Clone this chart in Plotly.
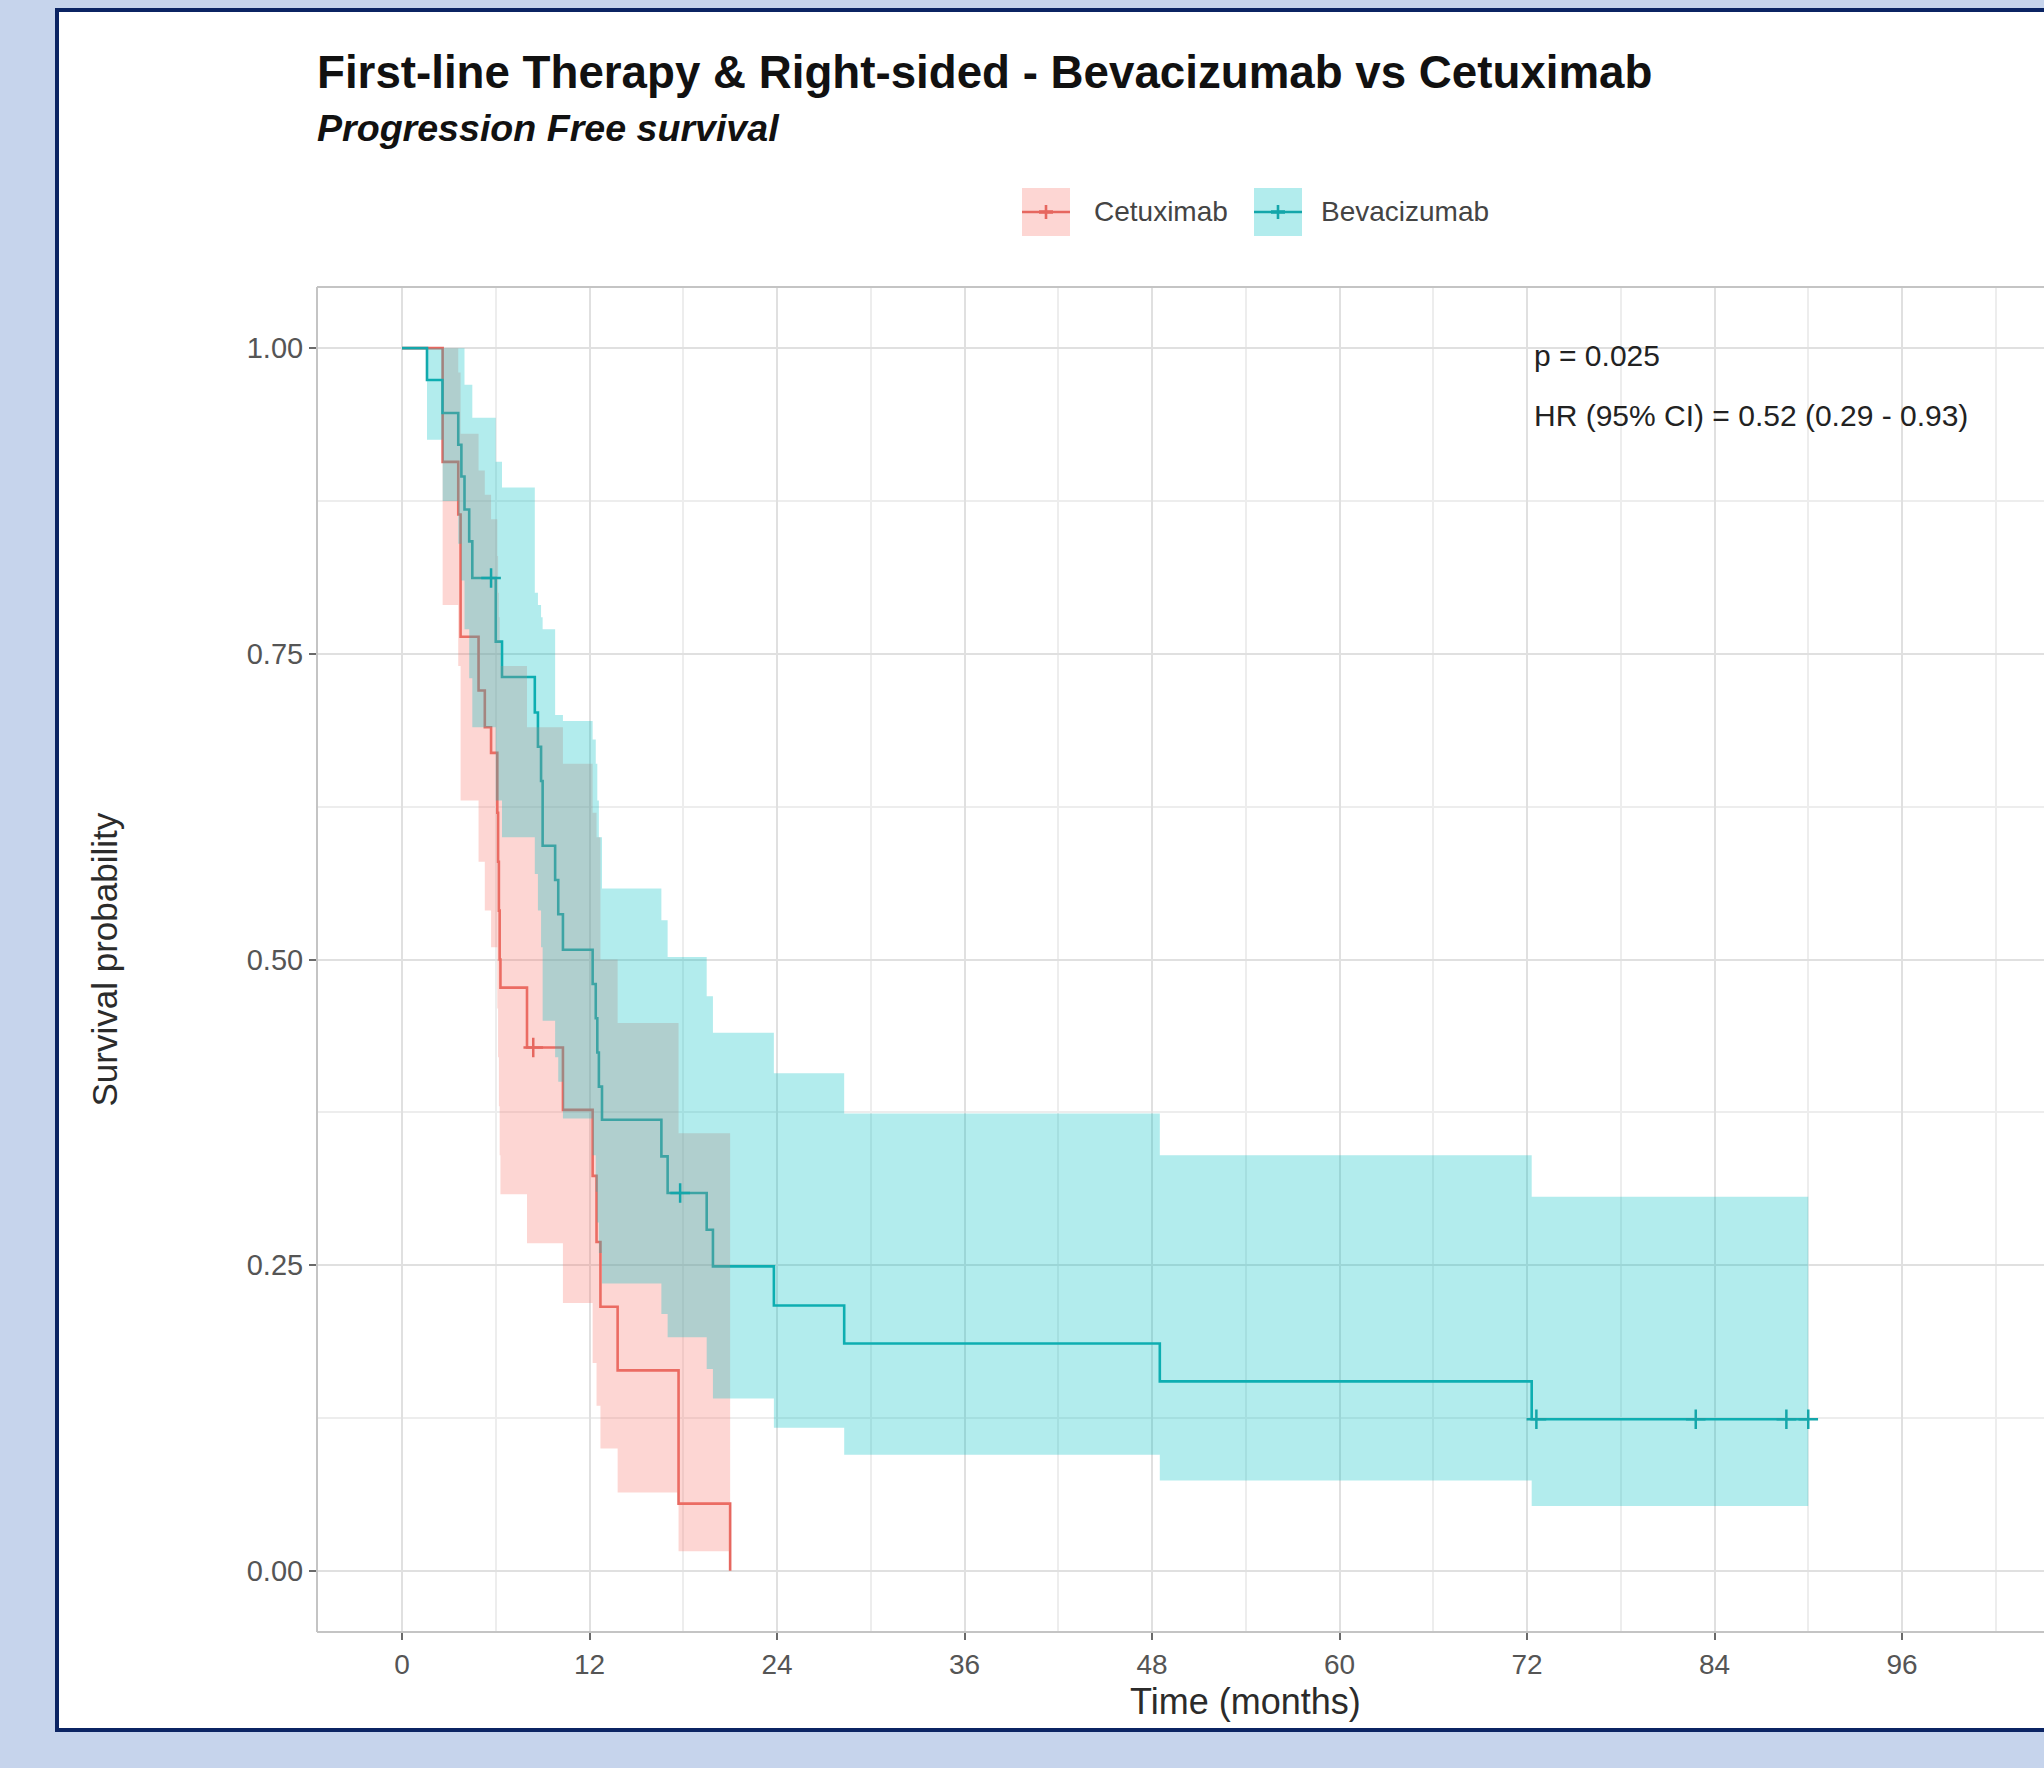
import plotly.graph_objects as go

# ---------------- data ----------------
bev_time = [0, 1.6, 2.6, 3.6, 3.8, 4.0, 4.3, 4.5, 6.0, 6.4, 8.5, 8.7, 8.9, 9.0, 9.8, 10.0,
            10.3, 12.2, 12.4, 12.5, 12.6, 12.8, 16.6, 17.0, 19.5, 19.9, 23.8, 28.3, 48.5, 72.3, 90.0]
bev_surv = [1.0, 0.974, 0.947, 0.921, 0.895, 0.868, 0.842, 0.812, 0.760, 0.731, 0.702, 0.674,
            0.646, 0.593, 0.565, 0.537, 0.508, 0.480, 0.452, 0.424, 0.396, 0.369, 0.339, 0.309,
            0.279, 0.249, 0.217, 0.186, 0.155, 0.124, 0.124]
bev_upper = [1.0, 1.0, 1.0, 1.0, 1.0, 0.97, 0.97, 0.943, 0.907, 0.886, 0.80, 0.79, 0.78, 0.77,
             0.70, 0.70, 0.695, 0.68, 0.66, 0.63, 0.60, 0.558, 0.532, 0.502, 0.47, 0.44, 0.407,
             0.374, 0.34, 0.306, 0.306]
bev_lower = [1.0, 0.925, 0.875, 0.84, 0.81, 0.77, 0.73, 0.69, 0.63, 0.60, 0.57, 0.54, 0.51,
             0.45, 0.42, 0.40, 0.37, 0.34, 0.31, 0.285, 0.26, 0.235, 0.21, 0.191, 0.165, 0.141,
             0.117, 0.095, 0.074, 0.053, 0.053]
bev_censor = [5.7, 17.8, 72.6, 82.8, 88.6, 90.0]

cet_time = [0, 2.6, 3.6, 3.75, 4.9, 5.3, 5.7, 6.1, 6.15, 6.2, 6.25, 6.3, 8.0, 10.3, 12.2,
            12.45, 12.7, 13.8, 17.7, 21.0]
cet_surv = [1.0, 0.907, 0.864, 0.764, 0.72, 0.69, 0.669, 0.62, 0.58, 0.54, 0.50, 0.477, 0.428,
            0.377, 0.323, 0.269, 0.216, 0.164, 0.055, 0.0]
cet_upper = [1.0, 1.0, 0.98, 0.93, 0.90, 0.88, 0.86, 0.83, 0.80, 0.78, 0.76, 0.74, 0.69, 0.66,
             0.62, 0.60, 0.50, 0.448, 0.358, None]
cet_lower = [1.0, 0.79, 0.74, 0.63, 0.58, 0.54, 0.51, 0.46, 0.42, 0.38, 0.34, 0.308, 0.268,
             0.219, 0.17, 0.135, 0.10, 0.064, 0.016, None]
cet_censor = [8.4]

x_ticks = [0, 12, 24, 36, 48, 60, 72, 84, 96]
y_ticks = [0.0, 0.25, 0.50, 0.75, 1.0]
y_ticklabels = ["0.00", "0.25", "0.50", "0.75", "1.00"]

groups = ["Cetuximab", "Bevacizumab"]
title = "First-line Therapy & Right-sided - Bevacizumab vs Cetuximab"
subtitle = "Progression Free survival"
pval_text = "p = 0.025"
hr_text = "HR (95% CI) = 0.52 (0.29 - 0.93)"

# ---------------- styling ----------------
RED_LINE = "#E6675F"
TEAL_LINE = "#14A6AA"
RED_FILL = "rgba(248,118,109,0.3)"
TEAL_FILL = "rgba(0,191,196,0.3)"
FONT = "Liberation Sans, Arial, sans-serif"
BG = "#C6D4EC"

W, H = 2044, 1768
L, T, B = 317, 287, 136
PW, PH = W - L, H - T - B


def px_x(px):
    return (px - L) / PW


def px_y(py):
    return (H - B - py) / PH


def ribbon(times, upper, lower):
    n = len(times) - 1
    xs, ys, lx, ly = [], [], [], []
    for i in range(n):
        xs += [times[i], times[i + 1]]
        ys += [upper[i], upper[i]]
        lx += [times[i], times[i + 1]]
        ly += [lower[i], lower[i]]
    return xs + lx[::-1], ys + ly[::-1]


def step_value(times, surv, t):
    v = surv[0]
    for ti, si in zip(times, surv):
        if ti <= t:
            v = si
    return v


fig = go.Figure()

# survival step lines (drawn first, ribbons overlay them as in ggsurvplot)
fig.add_trace(go.Scatter(x=cet_time, y=cet_surv, mode="lines", line=dict(color=RED_LINE, width=2.6, shape="hv"),
                         showlegend=False, hoverinfo="skip"))
fig.add_trace(go.Scatter(x=bev_time, y=bev_surv, mode="lines", line=dict(color=TEAL_LINE, width=2.6, shape="hv"),
                         showlegend=False, hoverinfo="skip"))

# confidence ribbons
rx, ry = ribbon(cet_time, cet_upper, cet_lower)
fig.add_trace(go.Scatter(x=rx, y=ry, mode="lines", fill="toself", fillcolor=RED_FILL,
                         line=dict(width=0, color="rgba(0,0,0,0)"), showlegend=False, hoverinfo="skip"))
bx, by = ribbon(bev_time, bev_upper, bev_lower)
fig.add_trace(go.Scatter(x=bx, y=by, mode="lines", fill="toself", fillcolor=TEAL_FILL,
                         line=dict(width=0, color="rgba(0,0,0,0)"), showlegend=False, hoverinfo="skip"))

# censor marks
fig.add_trace(go.Scatter(x=cet_censor, y=[step_value(cet_time, cet_surv, t) for t in cet_censor],
                         mode="markers", marker=dict(symbol="cross-thin", size=14, line=dict(width=2.5, color=RED_LINE)),
                         showlegend=False, hoverinfo="skip"))
fig.add_trace(go.Scatter(x=bev_censor, y=[step_value(bev_time, bev_surv, t) for t in bev_censor],
                         mode="markers", marker=dict(symbol="cross-thin", size=14, line=dict(width=2.5, color=TEAL_LINE)),
                         showlegend=False, hoverinfo="skip"))

shapes = []
# white card with navy frame
shapes.append(dict(type="rect", xref="paper", yref="paper", x0=px_x(57), x1=px_x(2080), y0=px_y(1730), y1=px_y(10),
                   fillcolor="white", line=dict(color="#0B2463", width=4), layer="below"))
# panel border (left, top, bottom)
border = "#C4C4C4"
shapes.append(dict(type="line", xref="paper", yref="paper", x0=0, x1=0, y0=0, y1=1, line=dict(color=border, width=2), layer="above"))
shapes.append(dict(type="line", xref="paper", yref="paper", x0=0, x1=1.01, y0=1, y1=1, line=dict(color=border, width=2), layer="above"))
shapes.append(dict(type="line", xref="paper", yref="paper", x0=0, x1=1.01, y0=0, y1=0, line=dict(color=border, width=2), layer="above"))

# manual ggplot-style legend keys
annotations = []
key_specs = [(groups[0], 1022, RED_FILL, RED_LINE, 1092), (groups[1], 1254, TEAL_FILL, TEAL_LINE, 1319)]
for name, kx, fillc, linec, tx in key_specs:
    shapes.append(dict(type="rect", xref="paper", yref="paper", x0=px_x(kx), x1=px_x(kx + 48),
                       y0=px_y(236), y1=px_y(188), fillcolor=fillc, line=dict(width=0)))
    shapes.append(dict(type="line", xref="paper", yref="paper", x0=px_x(kx), x1=px_x(kx + 48),
                       y0=px_y(212), y1=px_y(212), line=dict(color=linec, width=2.6)))
    shapes.append(dict(type="line", xref="paper", yref="paper", x0=px_x(kx + 24), x1=px_x(kx + 24),
                       y0=px_y(219), y1=px_y(205), line=dict(color=linec, width=2.6)))
    shapes.append(dict(type="line", xref="paper", yref="paper", x0=px_x(kx + 17), x1=px_x(kx + 31),
                       y0=px_y(212), y1=px_y(212), line=dict(color=linec, width=3.5)))
    annotations.append(dict(text=name, xref="paper", yref="paper", x=px_x(tx), y=px_y(212),
                            xanchor="left", yanchor="middle", showarrow=False,
                            font=dict(family=FONT, size=28, color="#444444")))

annotations += [
    dict(text="<b>" + title + "</b>", xref="paper", yref="paper", x=px_x(315), y=px_y(72),
         xanchor="left", yanchor="middle", showarrow=False, font=dict(family=FONT, size=45.7, color="#111111")),
    dict(text="<b><i>" + subtitle + "</i></b>", xref="paper", yref="paper", x=px_x(315), y=px_y(128),
         xanchor="left", yanchor="middle", showarrow=False, font=dict(family=FONT, size=37.6, color="#111111")),
    dict(text=pval_text, xref="x", yref="y", x=72.3, y=0.994, xanchor="left", yanchor="middle",
         showarrow=False, font=dict(family=FONT, size=30, color="#222222")),
    dict(text=hr_text, xref="x", yref="y", x=72.3, y=0.945, xanchor="left", yanchor="middle",
         showarrow=False, font=dict(family=FONT, size=30, color="#222222")),
    dict(text="Time (months)", xref="x", yref="paper", x=54, y=px_y(1701), xanchor="center", yanchor="middle",
         showarrow=False, font=dict(family=FONT, size=36, color="#2b2b2b")),
    dict(text="Survival probability", xref="paper", yref="paper", x=px_x(104), y=0.5, textangle=-90,
         xanchor="center", yanchor="middle", showarrow=False, font=dict(family=FONT, size=35, color="#2b2b2b")),
]

grid_major = "#E0E0E0"
grid_minor = "#EDEDED"

fig.update_layout(
    width=W, height=H,
    margin=dict(l=L, r=0, t=T, b=B, pad=0),
    paper_bgcolor=BG,
    plot_bgcolor="white",
    showlegend=False,
    shapes=shapes,
    annotations=annotations,
    font=dict(family=FONT),
    xaxis=dict(range=[-5.44, -5.44 + PW / 15.625], tickmode="array", tickvals=x_ticks,
               ticks="outside", ticklen=7, tickwidth=2, tickcolor="#6a6a6a",
               tickfont=dict(family=FONT, size=28, color="#555555"),
               showgrid=True, gridcolor=grid_major, gridwidth=2, zeroline=False, showline=False,
               minor=dict(dtick=6, tick0=0, showgrid=True, gridcolor=grid_minor, gridwidth=1.5, ticks="")),
    yaxis=dict(range=[-0.05, 1.05], tickmode="array", tickvals=y_ticks, ticktext=y_ticklabels,
               ticks="outside", ticklen=7, tickwidth=2, tickcolor="#6a6a6a",
               tickfont=dict(family=FONT, size=29, color="#555555"),
               showgrid=True, gridcolor=grid_major, gridwidth=2, zeroline=False, showline=False,
               minor=dict(dtick=0.125, tick0=0, showgrid=True, gridcolor=grid_minor, gridwidth=1.5, ticks="")),
)

fig.write_html(
    "out.html",
    config={"displayModeBar": False},
    post_script="document.body.style.margin='0';document.body.style.background='" + BG + "';",
)
